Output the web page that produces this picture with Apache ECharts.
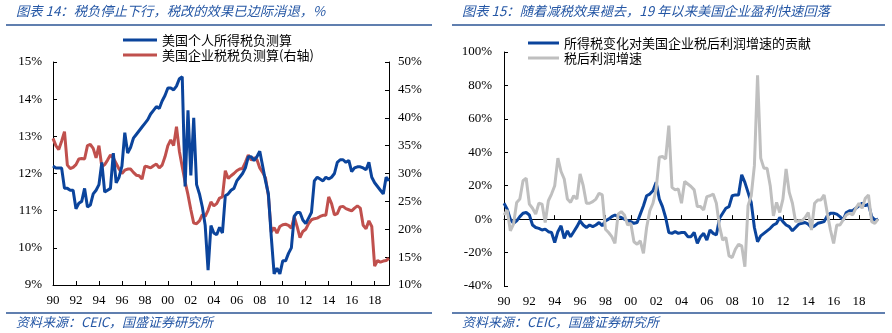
<!DOCTYPE html>
<html>
<head>
<meta charset="utf-8">
<script src="https://cdn.jsdelivr.net/npm/echarts@6/dist/echarts.min.js"></script>
<style>
  html, body { margin: 0; padding: 0; background: #fff; }
  #chart { width: 892px; height: 333px; }
</style>
</head>
<body>
<div id="chart"></div>
<script>
// Quarterly category labels (1990Q1 onward)
function quarterLabels(count) {
  const out = [];
  for (let k = 0; k < count; k++) {
    out.push((1990 + Math.floor(k / 4)) + 'Q' + (k % 4 + 1));
  }
  return out;
}

// Figure 14: US personal income tax burden (left axis, %) and corporate tax burden (right axis, %)
const taxPersonal = [
  12.2, 12.15, 12.15, 12.15, 11.6, 11.6, 11.55, 11.55, 11.05, 11.2,
  11.25, 11.6, 11.1, 11.15, 11.45, 11.55, 11.7, 12.3, 11.5, 11.55,
  11.6, 12.55, 11.75, 11.9, 12.2, 13.1, 12.55, 12.7, 12.95, 13.05,
  13.15, 13.25, 13.35, 13.45, 13.6, 13.7, 13.8, 13.75, 13.95, 14.1,
  14.3, 14.3, 14.25, 14.35, 14.55, 14.6, 11.65, 13.7, 11.95, 13.5,
  11.7, 11.45, 11.1, 10.6, 9.4, 10.6, 10.4, 10.35, 10.55, 10.4,
  11.4, 11.45, 11.55, 11.6, 11.8, 11.9, 12.0, 12.15, 12.45, 12.45,
  12.35, 12.45, 12.6, 12.2, 11.8, 11.45, 10.3, 9.3, 9.45, 9.3,
  9.65, 9.65, 9.85, 10.0, 10.85, 10.95, 10.95, 10.75, 10.65, 10.8,
  10.95, 11.8, 11.9, 11.85, 11.8, 11.9, 11.85, 11.9, 12.0, 12.3,
  12.37, 12.37, 12.3, 12.35, 12.05, 12.15, 12.18, 12.18, 12.15, 12.1,
  12.3, 11.9, 11.75, 11.65, 11.55, 11.45, 11.9, 11.8
];
const taxCorporate = [
  36.3, 35.0, 34.3, 35.8, 37.5, 31.5, 30.9, 31.1, 31.6, 32.6,
  32.7, 32.6, 35.0, 35.2, 34.5, 32.8, 35.0, 31.2, 31.6, 32.4,
  33.3, 32.8, 31.8, 30.8, 30.0, 30.6, 30.8, 30.8, 30.2, 29.7,
  29.6, 29.0, 31.3, 31.2, 31.0, 31.4, 31.7, 31.0, 31.5, 33.0,
  35.0, 36.0, 35.0, 38.4, 34.0, 31.2, 28.5, 26.2, 23.5, 21.1,
  21.0, 21.5, 22.6, 22.3, 23.4, 24.9, 24.2, 24.6, 25.6, 25.8,
  30.5, 29.1, 29.6, 30.0, 30.5, 30.8, 30.9, 32.0, 33.3, 32.4,
  32.8, 32.5, 31.0, 30.2, 29.2, 26.0, 19.5, 20.3, 19.3, 20.5,
  20.8, 20.9, 20.7, 20.2, 22.2, 20.5, 18.5, 19.6, 20.0, 21.0,
  21.7, 21.9, 22.0, 22.3, 22.5, 22.5, 25.8, 24.6, 22.6, 22.8,
  24.0, 24.1, 23.7, 23.5, 23.3, 23.8, 24.2, 23.8, 20.7, 20.1,
  21.5, 20.5, 13.4, 14.4, 14.1, 14.3, 14.4, 14.8
];

// Figure 15: contribution of income tax change to after-tax profit growth, and after-tax profit growth (%)
const taxContribution = [
  9.5, 6.0, 0.0, -2.5, -1.0, 1.5, 3.5, 4.0, 2.5, -3.5,
  -5.0, -5.5, -6.5, -6.0, -7.5, -8.0, -14.0, -7.5, -4.0, -11.5,
  -7.0, -10.5, -7.5, -4.5, -1.0, -3.5, -5.0, -3.5, -4.5, -3.5,
  -2.0, -4.0, -1.0, 0.0, 1.5, 2.5, 1.5, 1.0, 0.0, -1.0,
  -1.5, -2.5, -2.0, 3.0, 8.0, 14.0, 15.0, 17.0, 22.0, 12.0,
  7.5, 1.0, -8.0, -8.5, -7.5, -8.5, -8.0, -8.0, -10.5, -10.5,
  -8.0, -14.5, -10.5, -8.5, -12.5, -6.5, -8.5, -9.5, 0.5, 3.5,
  6.5, 7.5, 14.0, 14.5, 14.5, 26.5, 22.0, 16.0, 10.0, -5.0,
  -13.5, -10.0, -8.5, -7.0, -5.5, -3.5, -2.5, 1.0, -1.5, -3.5,
  -4.5, -7.0, -5.0, -3.0, -2.5, -2.0, -3.0, -5.0, -4.0, -2.5,
  -2.0, -1.5, 2.0, 3.5, 3.5, 3.0, 1.5, -0.5, 4.0, 5.0,
  5.0, 6.5, 8.0, 9.5, 8.0, 9.0, 1.5, -0.5, 0.0
];
const profitGrowth = [
  2.5, 5.5, -7.0, -3.0, 10.0, 12.0, 23.0, 24.5, 9.0, 6.5,
  3.0, 9.5, 9.0, -2.0, 11.0, 15.0, 20.0, 36.5, 28.5, 24.0,
  12.0, 10.0, 14.0, 12.0, 27.0, 20.0, 9.5, 9.5, 10.5, 12.0,
  15.5, 14.5, -6.0, -8.0, -10.5, -14.5, 3.0, 4.5, 2.5, -3.5,
  -2.5, -13.5, -15.0, -13.0, -20.5, -5.0, 5.0, 9.5, 18.0, 37.0,
  37.5, 36.0, 56.0, 19.0, 17.5, 18.0, 9.5, 22.5, 21.0, 19.5,
  17.5, 7.5, 7.5, 5.5, 13.5, 14.0, 15.0, 9.5, -4.5, -12.5,
  -11.0, -22.0, -23.0, -18.0, -15.0, -16.0, -28.5, 8.0, 14.0, 32.0,
  86.0, 36.5, 30.5, 30.5, 20.0, 2.0, 10.0, 4.0, 12.0, 30.0,
  16.0, 9.5, -1.5, -1.0, -1.0, 1.0, 4.0, -6.5, 9.5, 11.5,
  11.5, 14.5, 3.5, -6.5, -14.5, -3.5, -3.5, -0.5, 2.5, 3.5,
  2.5, 6.5, 9.5, 6.5, 12.5, 14.5, -1.5, -2.5, 0.0
];

const leftCategories = quarterLabels(taxPersonal.length);
const rightCategories = quarterLabels(taxContribution.length);

const seriesNames = {
  personal: '美国个人所得税负测算',
  corporate: '美国企业税税负测算(右轴)',
  contribution: '所得税变化对美国企业税后利润增速的贡献',
  profit: '税后利润增速'
};

const titles = {
  left: '图表 14：税负停止下行，税改的效果已边际消退，%',
  right: '图表 15：随着减税效果褪去，19 年以来美国企业盈利快速回落'
};
const sourceNote = '资料来源：CEIC，国盛证券研究所';

const BLUE = '#0B449C';
const RED = '#C0504D';
const GRAY = '#BFBFBF';
const HEAD_BLUE = '#2557A5';
const RULE_BLUE = '#2B5594';
const CJK = '"Noto Sans CJK SC", sans-serif';
const SERIF = '"Liberation Serif", "Times New Roman", serif';

const axisText = { fontFamily: SERIF, fontSize: 13, color: '#000' };
const blackLine = { color: '#000', width: 1 };
const yearLabel = v => v.slice(2, 4);

function headText(x, y, text, size) {
  return {
    type: 'text', left: x, top: y,
    style: { text: text, fontFamily: CJK, fontSize: size, fontStyle: 'italic', fill: HEAD_BLUE }
  };
}
function rule(x1, x2, y) {
  return {
    type: 'line', shape: { x1: x1, y1: y, x2: x2, y2: y },
    style: { stroke: RULE_BLUE, lineWidth: 1.5 }
  };
}
function legendBox(name, left, top, color, width) {
  return {
    data: [{ name: name, icon: 'rect', itemStyle: { color: color } }],
    left: left, top: top, itemWidth: width, itemHeight: 3,
    padding: 0, selectedMode: false,
    textStyle: { fontFamily: CJK, fontSize: 13, color: '#000', lineHeight: 14 }
  };
}

const chart = echarts.init(document.getElementById('chart'), null, { renderer: 'canvas' });

chart.setOption({
  animation: false,
  backgroundColor: '#fff',
  graphic: [
    headText(16, 4, titles.left, 13.3),
    headText(462, 4, titles.right, 13.3),
    rule(6, 432, 25),
    rule(452, 885, 25),
    rule(6, 432, 313),
    rule(452, 885, 313),
    headText(16, 316, sourceNote, 13),
    headText(462, 316, sourceNote, 13)
  ],
  legend: [
    legendBox(seriesNames.personal, 123, 33, BLUE, 34),
    legendBox(seriesNames.corporate, 123, 48, RED, 34),
    legendBox(seriesNames.contribution, 528, 36, BLUE, 31),
    legendBox(seriesNames.profit, 528, 51, GRAY, 31)
  ],
  grid: [
    { left: 53, top: 62, width: 336, height: 223, containLabel: false },
    { left: 504, top: 52, width: 374, height: 234, containLabel: false }
  ],
  xAxis: [
    {
      gridIndex: 0, type: 'category', boundaryGap: false, data: leftCategories,
      axisLine: { onZero: false, lineStyle: blackLine },
      axisTick: { inside: true, length: 4, interval: 7, lineStyle: blackLine },
      axisLabel: Object.assign({ interval: 7, margin: 9, formatter: yearLabel }, axisText),
      splitLine: { show: false }
    },
    {
      // zero line of the right panel, carrying the year ticks
      gridIndex: 1, type: 'category', boundaryGap: false, data: rightCategories,
      axisLine: { onZero: true, lineStyle: blackLine },
      axisTick: { inside: true, length: 4, interval: 7, lineStyle: blackLine },
      axisLabel: { show: false },
      splitLine: { show: false }
    },
    {
      // year labels along the bottom of the right panel
      gridIndex: 1, type: 'category', boundaryGap: false, data: rightCategories,
      position: 'bottom',
      axisLine: { show: false, onZero: false },
      axisTick: { show: false },
      axisLabel: Object.assign({ interval: 7, margin: 9, formatter: yearLabel }, axisText),
      splitLine: { show: false }
    }
  ],
  yAxis: [
    {
      gridIndex: 0, type: 'value', min: 9, max: 15, interval: 1, position: 'left',
      axisLine: { show: true, lineStyle: blackLine },
      axisTick: { show: true, inside: true, length: 4, lineStyle: blackLine },
      axisLabel: Object.assign({ formatter: '{value}%', margin: 11 }, axisText),
      splitLine: { show: false }
    },
    {
      gridIndex: 0, type: 'value', min: 10, max: 50, interval: 5, position: 'right',
      axisLine: { show: true, lineStyle: blackLine },
      axisTick: { show: true, inside: true, length: 4, lineStyle: blackLine },
      axisLabel: Object.assign({ formatter: '{value}%', margin: 9 }, axisText),
      splitLine: { show: false }
    },
    {
      gridIndex: 1, type: 'value', min: -40, max: 100, interval: 20, position: 'left',
      axisLine: { show: true, lineStyle: blackLine },
      axisTick: { show: true, inside: true, length: 4, lineStyle: blackLine },
      axisLabel: Object.assign({ formatter: '{value}%', margin: 12 }, axisText),
      splitLine: { show: false }
    }
  ],
  series: [
    {
      name: seriesNames.personal, type: 'line', xAxisIndex: 0, yAxisIndex: 0,
      data: taxPersonal, showSymbol: false, z: 4,
      lineStyle: { color: BLUE, width: 3 }, itemStyle: { color: BLUE }
    },
    {
      name: seriesNames.corporate, type: 'line', xAxisIndex: 0, yAxisIndex: 1,
      data: taxCorporate, showSymbol: false, z: 3,
      lineStyle: { color: RED, width: 3 }, itemStyle: { color: RED }
    },
    {
      name: seriesNames.contribution, type: 'line', xAxisIndex: 1, yAxisIndex: 2,
      data: taxContribution, showSymbol: false, z: 3,
      lineStyle: { color: BLUE, width: 3 }, itemStyle: { color: BLUE }
    },
    {
      name: seriesNames.profit, type: 'line', xAxisIndex: 1, yAxisIndex: 2,
      data: profitGrowth, showSymbol: false, z: 4,
      lineStyle: { color: GRAY, width: 3 }, itemStyle: { color: GRAY }
    }
  ]
});
</script>
</body>
</html>
